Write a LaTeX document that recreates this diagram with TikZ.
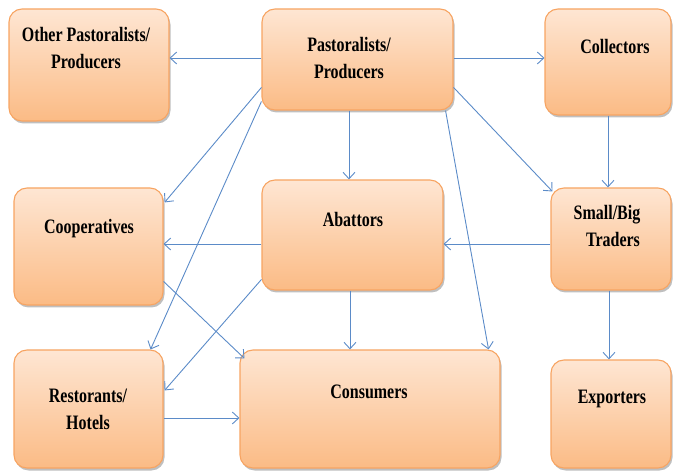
\documentclass[tikz,border=0pt]{standalone}
\usepackage{fontspec}
\setmainfont[FakeStretch=0.78]{Liberation Serif}
\usetikzlibrary{arrows.meta,calc,shadows}
\definecolor{boxtop}{HTML}{FEE6D3}
\definecolor{boxbot}{HTML}{FBBB85}
\definecolor{boxline}{HTML}{F7A462}
\definecolor{arr}{HTML}{5B8BC8}
\tikzset{
  box/.style={draw=boxline, line width=1.1pt, rounded corners=13pt, top color=boxtop, bottom color=boxbot,
    inner sep=0pt, drop shadow={shadow xshift=1.5pt, shadow yshift=-2.5pt, opacity=0.25, fill=black}},
  lbl/.style={font=\fontsize{20.5}{27}\selectfont\bfseries, align=center, inner sep=0pt},
  link/.style={draw=arr, line width=0.9pt, -{Straight Barb[length=6.5pt,width=12pt,line width=0.9pt]}}
}
\begin{document}
\begin{tikzpicture}[x=1pt,y=-1pt]
\useasboundingbox (0,0) rectangle (673,473);
\node[box, minimum width=160, minimum height=112] (oth) at (89,65) {};
\node[box, minimum width=191, minimum height=101] (past) at (357.5,59.5) {};
\node[box, minimum width=126, minimum height=106] (coll) at (608,62) {};
\node[box, minimum width=149, minimum height=117] (coop) at (88.5,246.5) {};
\node[box, minimum width=181, minimum height=110] (abat) at (352.5,235) {};
\node[box, minimum width=120, minimum height=102] (trad) at (611,239) {};
\node[box, minimum width=149, minimum height=118] (rest) at (88.5,409) {};
\node[box, minimum width=260, minimum height=118] (cons) at (370,409) {};
\node[box, minimum width=120, minimum height=108] (expo) at (611,414) {};

\node[lbl] (toth) at (86,48) {Other Pastoralists/\\Producers};
\node[lbl] (tpast) at (349,58) {Pastoralists/\\Producers};
\node[lbl] (tcoll) at (615,46) {Collectors};
\node[lbl] (tcoop) at (89,229) {Cooperatives};
\node[lbl] (tabat) at (353,219) {Abattors};
\node[lbl] (ttrad) at (607,226) {Small/Big\\\hspace*{12pt}Traders};
\node[lbl] (trest) at (88,409) {Restorants/\\Hotels};
\node[lbl] (tcons) at (369,392) {Consumers};
\node[lbl] (texpo) at (612,399) {Exporters};

\coordinate (ya) at (0,58);
\coordinate (yb) at (0,244);
\coordinate (yc) at (0,418);

\draw[link] (past.west |- ya) -- (oth.east |- ya);
\draw[link] (past.east |- ya) -- (coll.west |- ya);
\draw[link] ([xshift=-8.5pt]past.south) -- ([xshift=-8.5pt]past.south |- abat.north);
\draw[link] ($(past.north east)+(0,79)$) -- ($(trad.north west)+(2,4)$);
\draw[link] ($(past.north west)+(0,79)$) -- ($(coop.north east)+(1,15)$);
\draw[link] ($(past.north west)+(0,93)$) -- ($(rest.north east)+(-13,0)$);
\draw[link] ($(past.south east)+(-8,0)$) -- ($(cons.north east)+(-12,0)$);
\draw[link] (coll.south) -- (coll.south |- trad.north);
\draw[link] (trad.west |- yb) -- (abat.east |- yb);
\draw[link] (abat.west |- yb) -- (coop.east |- yb);
\draw[link] ($(abat.north west)+(0,100)$) -- ($(rest.north east)+(1,41)$);
\draw[link] ([xshift=-2.5pt]abat.south) -- ([xshift=-2.5pt]abat.south |- cons.north);
\draw[link] ($(coop.north east)+(0,94)$) -- ($(cons.north west)+(5,9)$);
\draw[link] (rest.east |- yc) -- (cons.west |- yc);
\draw[link] ([xshift=-2pt]trad.south) -- ([xshift=-2pt]trad.south |- expo.north);
\end{tikzpicture}
\end{document}
